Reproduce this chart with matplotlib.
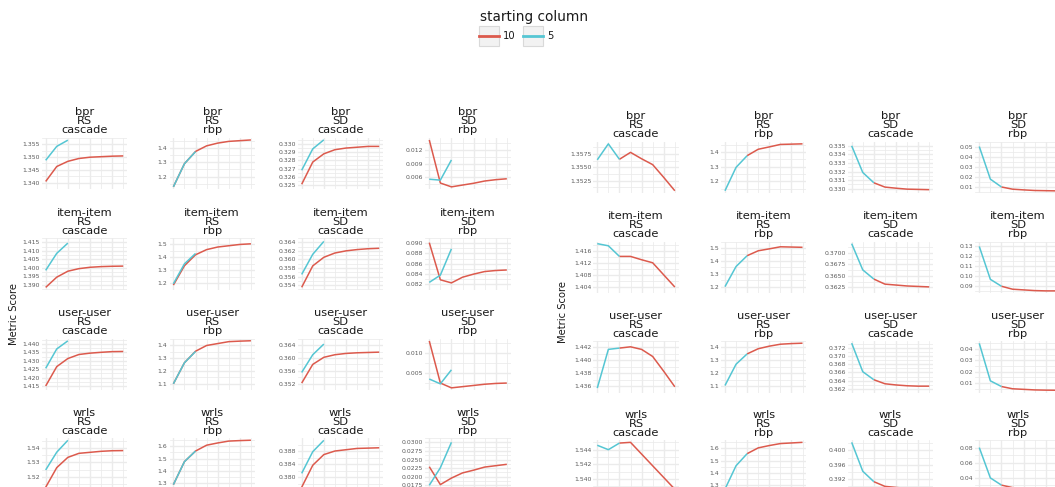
import matplotlib
matplotlib.use("Agg")
import matplotlib.pyplot as plt
from matplotlib.patches import Rectangle
from matplotlib.lines import Line2D

# ---------------------------------------------------------------- data
algorithms = ["bpr", "item-item", "user-user", "wrls"]
facets = [("RS", "cascade"), ("RS", "rbp"), ("SD", "cascade"), ("SD", "rbp")]
legend_title = "starting column"
legend_labels = ["10", "5"]

# x steps for each starting column
left_x_10 = [0, 1, 2, 3, 4, 5, 6, 7]
left_x_5 = [0, 1, 2]
right_x_5 = [0, 1, 2]
right_x_10 = [2, 3, 4, 5, 6, 7]

# left block: one list per facet (RS cascade, RS rbp, SD cascade, SD rbp)
left_bpr_10 = [
    [1.3405, 1.3463, 1.3483, 1.3494, 1.3499, 1.3501, 1.3503, 1.3504],
    [1.129, 1.290, 1.375, 1.414, 1.433, 1.445, 1.450, 1.455],
    [0.3251, 0.3278, 0.3288, 0.3293, 0.3295, 0.3296, 0.3297, 0.3297],
    [0.01425, 0.00465, 0.0038, 0.0042, 0.0046, 0.0051, 0.0054, 0.0056],
]
left_bpr_5 = [
    [1.3487, 1.3541, 1.3565],
    [1.129, 1.290, 1.374],
    [0.3268, 0.3294, 0.3305],
    [0.0055, 0.0053, 0.0098],
]
left_bpr_ticks = [
    [1.340, 1.345, 1.350, 1.355],
    [1.2, 1.3, 1.4],
    [0.325, 0.326, 0.327, 0.328, 0.329, 0.330],
    [0.006, 0.009, 0.012],
]

left_item_10 = [
    [1.3885, 1.3945, 1.3980, 1.3995, 1.4003, 1.4007, 1.4009, 1.4010],
    [1.185, 1.335, 1.420, 1.460, 1.480, 1.490, 1.500, 1.505],
    [0.3535, 0.3585, 0.3605, 0.3615, 0.3620, 0.3623, 0.3625, 0.3626],
    [0.0901, 0.0829, 0.0823, 0.0834, 0.0840, 0.0845, 0.0847, 0.0848],
]
left_item_5 = [
    [1.3985, 1.4085, 1.4145],
    [1.195, 1.350, 1.430],
    [0.3565, 0.3612, 0.3642],
    [0.0824, 0.0838, 0.0889],
]
left_item_ticks = [
    [1.390, 1.395, 1.400, 1.405, 1.410, 1.415],
    [1.2, 1.3, 1.4, 1.5],
    [0.354, 0.356, 0.358, 0.360, 0.362, 0.364],
    [0.082, 0.084, 0.086, 0.088, 0.090],
]

left_user_10 = [
    [1.4150, 1.4265, 1.4313, 1.4337, 1.4345, 1.4350, 1.4354, 1.4355],
    [1.100, 1.265, 1.355, 1.400, 1.415, 1.430, 1.434, 1.437],
    [0.3522, 0.3580, 0.3602, 0.3610, 0.3614, 0.3616, 0.3617, 0.3618],
    [0.0130, 0.0025, 0.0013, 0.0016, 0.0019, 0.0022, 0.0024, 0.0025],
]
left_user_5 = [
    [1.4255, 1.4370, 1.4418],
    [1.100, 1.265, 1.353],
    [0.3555, 0.3610, 0.3643],
    [0.0035, 0.0023, 0.0058],
]
left_user_ticks = [
    [1.415, 1.420, 1.425, 1.430, 1.435, 1.440],
    [1.1, 1.2, 1.3, 1.4],
    [0.352, 0.356, 0.360, 0.364],
    [0.005, 0.010],
]

left_wrls_10 = [
    [1.5127, 1.5263, 1.5334, 1.5362, 1.5369, 1.5376, 1.5380, 1.5381],
    [1.290, 1.475, 1.560, 1.607, 1.625, 1.640, 1.644, 1.647],
    [0.3769, 0.3837, 0.3870, 0.3881, 0.3885, 0.3889, 0.3890, 0.3891],
    [0.0229, 0.0177, 0.0196, 0.0211, 0.0219, 0.0228, 0.0232, 0.0236],
]
left_wrls_5 = [
    [1.5247, 1.5370, 1.5452],
    [1.290, 1.475, 1.560],
    [0.3812, 0.3879, 0.3914],
    [0.0175, 0.0226, 0.0300],
]
left_wrls_ticks = [
    [1.52, 1.53, 1.54],
    [1.3, 1.4, 1.5, 1.6],
    [0.380, 0.384, 0.388],
    [0.0175, 0.0200, 0.0225, 0.0250, 0.0275, 0.0300],
]

# right block
right_bpr_10 = [
    [1.3565, 1.3578, 1.3566, 1.3555, 1.3531, 1.3506],
    [1.375, 1.419, 1.435, 1.452, 1.454, 1.456],
    [0.3307, 0.3302, 0.33007, 0.32996, 0.32993, 0.3299],
    [0.0097, 0.0075, 0.0068, 0.0062, 0.0060, 0.0058],
]
right_bpr_5 = [
    [1.3564, 1.3594, 1.3565],
    [1.135, 1.295, 1.375],
    [0.3350, 0.3319, 0.3307],
    [0.050, 0.0175, 0.0097],
]
right_bpr_ticks = [
    [1.3525, 1.3550, 1.3575],
    [1.2, 1.3, 1.4],
    [0.330, 0.331, 0.332, 0.333, 0.334, 0.335],
    [0.01, 0.02, 0.03, 0.04, 0.05],
]

right_item_10 = [
    [1.4141, 1.4141, 1.4130, 1.4120, 1.4080, 1.4040],
    [1.440, 1.478, 1.493, 1.509, 1.507, 1.505],
    [0.3643, 0.3632, 0.3630, 0.3628, 0.3627, 0.3626],
    [0.0897, 0.0867, 0.0860, 0.0853, 0.0850, 0.0850],
]
right_item_5 = [
    [1.4183, 1.4176, 1.4141],
    [1.200, 1.356, 1.440],
    [0.3720, 0.3663, 0.3643],
    [0.130, 0.0967, 0.0897],
]
right_item_ticks = [
    [1.404, 1.408, 1.412, 1.416],
    [1.2, 1.3, 1.4, 1.5],
    [0.3625, 0.3650, 0.3675, 0.3700],
    [0.09, 0.10, 0.11, 0.12, 0.13],
]

right_user_10 = [
    [1.4419, 1.4421, 1.4417, 1.4406, 1.4383, 1.4359],
    [1.350, 1.390, 1.410, 1.425, 1.430, 1.433],
    [0.3642, 0.3632, 0.3629, 0.3627, 0.3626, 0.3626],
    [0.0070, 0.0050, 0.0045, 0.0040, 0.0038, 0.0037],
]
right_user_5 = [
    [1.4357, 1.4417, 1.4419],
    [1.105, 1.270, 1.350],
    [0.3733, 0.3662, 0.3642],
    [0.045, 0.012, 0.007],
]
right_user_ticks = [
    [1.436, 1.438, 1.440, 1.442],
    [1.1, 1.2, 1.3, 1.4],
    [0.362, 0.364, 0.366, 0.368, 0.370, 0.372],
    [0.01, 0.02, 0.03, 0.04],
]

right_wrls_10 = [
    [1.5449, 1.5450, 1.5434, 1.5418, 1.5402, 1.5386],
    [1.558, 1.605, 1.624, 1.640, 1.645, 1.650],
    [0.3913, 0.3900, 0.3897, 0.3894, 0.3893, 0.3892],
    [0.0305, 0.0272, 0.0260, 0.0252, 0.0248, 0.0247],
]
right_wrls_5 = [
    [1.5446, 1.5440, 1.5449],
    [1.270, 1.460, 1.558],
    [0.4022, 0.3942, 0.3913],
    [0.080, 0.040, 0.0305],
]
right_wrls_ticks = [
    [1.540, 1.542, 1.544],
    [1.3, 1.4, 1.5, 1.6],
    [0.392, 0.396, 0.400],
    [0.04, 0.06, 0.08],
]

# ---------------------------------------------------------------- style
RED = "#DC5A4D"
CYAN = "#55C6D3"
GRID = "#EBEBEB"
TEXT = "#1A1A1A"
TICK = "#5A5A5A"

W, H = 1055, 487
fig = plt.figure(figsize=(W / 100, H / 100), dpi=100)


def box(x, y, w, h):
    """Pixel rectangle (top-left origin) to figure fraction."""
    return [x / W, 1 - (y + h) / H, w / W, h / H]


def fmt_ticks(ticks):
    for d in range(0, 6):
        if all(abs(round(t, d) - t) < 1e-9 for t in ticks):
            return [f"{t:.{d}f}" for t in ticks]
    return [f"{t:.5f}" for t in ticks]


def draw_panel(ax, alg, facet, x10, y10, x5, y5, ticks):
    ax.plot(x10, y10, color=RED, lw=1.1, solid_capstyle="butt", zorder=3)
    ax.plot(x5, y5, color=CYAN, lw=1.1, solid_capstyle="butt", zorder=4)
    ax.margins(x=0.05, y=0.05)
    for s in ax.spines.values():
        s.set_visible(False)
    ax.set_xticks([0, 2, 4, 6])
    ax.set_xticks([1, 3, 5, 7], minor=True)
    ax.set_yticks(ticks)
    ax.set_yticklabels(fmt_ticks(ticks))
    mids = [(a + b) / 2 for a, b in zip(ticks[:-1], ticks[1:])]
    step = ticks[1] - ticks[0]
    mids = [ticks[0] - step / 2] + mids + [ticks[-1] + step / 2]
    ax.set_yticks(mids, minor=True)
    ylim = ax.get_ylim()
    ax.set_ylim(ylim)
    ax.tick_params(axis="both", which="both", length=0)
    ax.tick_params(axis="x", labelbottom=False)
    ax.tick_params(axis="y", labelsize=4.4, labelcolor=TICK, pad=1.5)
    ax.grid(True, which="major", color=GRID, lw=1.0)
    ax.grid(True, which="minor", color=GRID, lw=0.55)
    ax.set_axisbelow(True)
    ax.set_title(f"{alg}\n{facet[0]}\n{facet[1]}", fontsize=8.2,
                 color=TEXT, linespacing=0.88, pad=3)


left_cols = [41.8, 169.5, 297.8, 425.4]
left_rows = [137.6, 238.0, 338.6, 438.0]
right_cols = [593.4, 721.1, 847.8, 975.4]
right_rows = [141.5, 241.5, 341.0, 440.0]
PW, PH = 85.3, 51.6

left_data = [
    (left_bpr_10, left_bpr_5, left_bpr_ticks),
    (left_item_10, left_item_5, left_item_ticks),
    (left_user_10, left_user_5, left_user_ticks),
    (left_wrls_10, left_wrls_5, left_wrls_ticks),
]
right_data = [
    (right_bpr_10, right_bpr_5, right_bpr_ticks),
    (right_item_10, right_item_5, right_item_ticks),
    (right_user_10, right_user_5, right_user_ticks),
    (right_wrls_10, right_wrls_5, right_wrls_ticks),
]

for r, alg in enumerate(algorithms):
    s10, s5, tk = left_data[r]
    for c, facet in enumerate(facets):
        ax = fig.add_axes(box(left_cols[c], left_rows[r], PW, PH))
        draw_panel(ax, alg, facet, left_x_10, s10[c], left_x_5, s5[c], tk[c])
    s10, s5, tk = right_data[r]
    for c, facet in enumerate(facets):
        ax = fig.add_axes(box(right_cols[c], right_rows[r], PW, PH))
        draw_panel(ax, alg, facet, right_x_10, s10[c], right_x_5, s5[c], tk[c])

# axis titles
fig.text(14 / W, 1 - 314 / H, "Metric Score", rotation=90, fontsize=7.2,
         color=TEXT, ha="center", va="center")
fig.text(563 / W, 1 - 312 / H, "Metric Score", rotation=90, fontsize=7.2,
         color=TEXT, ha="center", va="center")

# legend
fig.text(534 / W, 1 - 17 / H, legend_title, fontsize=9.8, color=TEXT,
         ha="center", va="center")
key_x = [479, 523]
for kx, label, col in zip(key_x, legend_labels, [RED, CYAN]):
    fig.add_artist(Rectangle((kx / W, 1 - 46 / H), 20 / W, 20 / H,
                             transform=fig.transFigure, facecolor="#F2F2F2",
                             edgecolor="#D9D9D9", lw=0.8))
    fig.add_artist(Line2D([kx / W, (kx + 20) / W], [1 - 36 / H, 1 - 36 / H],
                          transform=fig.transFigure, color=col, lw=2.0))
    fig.text((kx + 24) / W, 1 - 36 / H, label, fontsize=7.2, color=TEXT,
             ha="left", va="center")

fig.savefig("out.png", dpi=100, facecolor="white")
